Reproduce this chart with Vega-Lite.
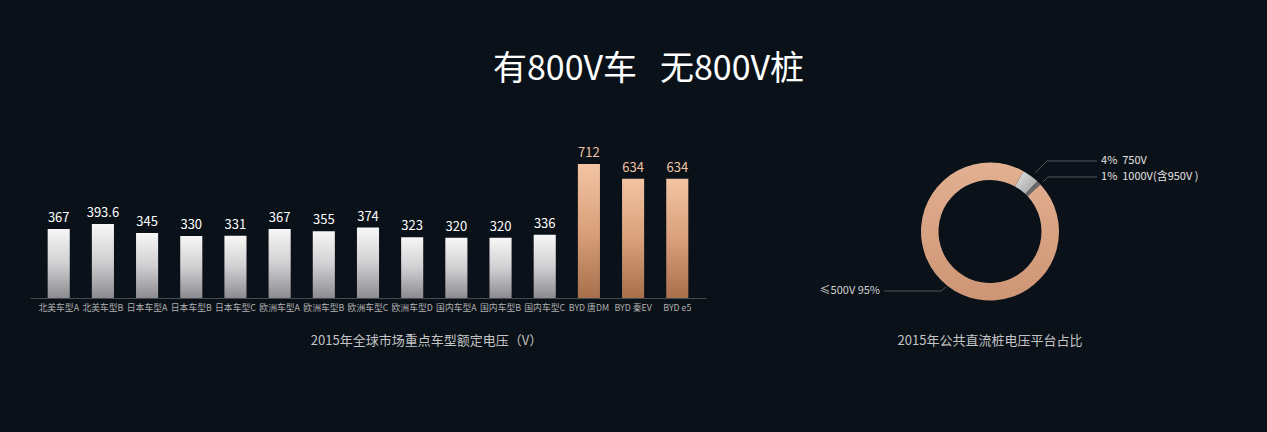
{
  "$schema": "https://vega.github.io/schema/vega-lite/v6.json",
  "usermeta": {"embedOptions": {"actions": false}},
  "background": "#0a1118",
  "padding": {"left": 30, "top": 53, "right": 0, "bottom": 95},
  "title": {
    "text": "有800V车\u00a0\u00a0\u00a0无800V桩",
    "anchor": "middle",
    "frame": "bounds",
    "font": "Noto Sans CJK SC",
    "fontSize": 34,
    "fontWeight": "normal",
    "color": "#ffffff",
    "offset": 60
  },
  "config": {
    "view": {"stroke": null},
    "font": "Noto Sans CJK SC"
  },
  "spacing": 7,
  "hconcat": [
    {
      "width": 676,
      "height": 134,
      "data": {
        "values": [
          {"model": "北美车型A", "voltage": 367, "brand": "other"},
          {"model": "北美车型B", "voltage": 393.6, "brand": "other"},
          {"model": "日本车型A", "voltage": 345, "brand": "other"},
          {"model": "日本车型B", "voltage": 330, "brand": "other"},
          {"model": "日本车型C", "voltage": 331, "brand": "other"},
          {"model": "欧洲车型A", "voltage": 367, "brand": "other"},
          {"model": "欧洲车型B", "voltage": 355, "brand": "other"},
          {"model": "欧洲车型C", "voltage": 374, "brand": "other"},
          {"model": "欧洲车型D", "voltage": 323, "brand": "other"},
          {"model": "国内车型A", "voltage": 320, "brand": "other"},
          {"model": "国内车型B", "voltage": 320, "brand": "other"},
          {"model": "国内车型C", "voltage": 336, "brand": "other"},
          {"model": "BYD 唐DM", "voltage": 712, "brand": "BYD"},
          {"model": "BYD 秦EV", "voltage": 634, "brand": "BYD"},
          {"model": "BYD e5", "voltage": 634, "brand": "BYD"}
        ]
      },
      "encoding": {
        "x": {
          "field": "model",
          "type": "nominal",
          "sort": null,
          "scale": {"paddingInner": 0.5, "paddingOuter": 0.4},
          "axis": {
            "title": "2015年全球市场重点车型额定电压（V）",
            "titleFontSize": 13,
            "titleFontWeight": "normal",
            "titleColor": "#c4c4c4",
            "titleX": 396,
            "titleY": 42,
            "titleBaseline": "middle",
            "titleAlign": "center",
            "labelAngle": 0,
            "labelFontSize": 8.8,
            "labelColor": "#b0b0b0",
            "labelPadding": 5,
            "labelOverlap": false,
            "ticks": false,
            "domainColor": "#474c53",
            "domainWidth": 1.2
          }
        },
        "y": {
          "field": "voltage",
          "type": "quantitative",
          "scale": {"domain": [0, 712], "nice": false},
          "axis": null
        }
      },
      "layer": [
        {
          "transform": [{"filter": "datum.brand === 'other'"}],
          "mark": {
            "type": "bar",
            "color": {
              "gradient": "linear", "x1": 0, "y1": 0, "x2": 0, "y2": 1,
              "stops": [
                {"offset": 0, "color": "#f7f7f7"},
                {"offset": 0.5, "color": "#d0d0d2"},
                {"offset": 1, "color": "#8c8c90"}
              ]
            }
          }
        },
        {
          "transform": [{"filter": "datum.brand === 'BYD'"}],
          "mark": {
            "type": "bar",
            "color": {
              "gradient": "linear", "x1": 0, "y1": 0, "x2": 0, "y2": 1,
              "stops": [
                {"offset": 0, "color": "#f3c4a3"},
                {"offset": 0.5, "color": "#d9a07b"},
                {"offset": 1, "color": "#a86f4d"}
              ]
            }
          }
        },
        {
          "mark": {"type": "text", "baseline": "bottom", "dy": -4, "fontSize": 13},
          "encoding": {
            "text": {"field": "voltage", "type": "quantitative", "format": "~f"},
            "color": {
              "condition": {"test": "datum.brand === 'BYD'", "value": "#f0c4a4"},
              "value": "#ffffff"
            }
          }
        }
      ]
    },
    {
      "width": 554,
      "height": 135,
      "title": {
        "text": "2015年公共直流桩电压平台占比",
        "orient": "bottom",
        "baseline": "top",
        "offset": 34,
        "fontSize": 13,
        "fontWeight": "normal",
        "color": "#c4c4c4",
        "anchor": "middle"
      },
      "layer": [
        {
          "data": {
            "values": [
              {"segment": "750V", "pct": 4, "idx": 1},
              {"segment": "1000V(含950V)", "pct": 1, "idx": 2},
              {"segment": "≤500V", "pct": 95, "idx": 3}
            ]
          },
          "transform": [
            {"stack": "pct", "groupby": [], "sort": [{"field": "idx", "order": "ascending"}], "as": ["t0", "t1"]}
          ],
          "encoding": {
            "theta": {
              "field": "t0",
              "type": "quantitative",
              "scale": {"domain": [0, 100], "range": [0.506, 6.789]}
            },
            "theta2": {"field": "t1"}
          },
          "layer": [
            {
              "transform": [{"filter": "datum.idx === 1"}],
              "mark": {
                "type": "arc", "innerRadius": 51.5, "outerRadius": 69,
                "color": {
                  "gradient": "linear", "x1": 0, "y1": 0, "x2": 1, "y2": 1,
                  "stops": [
                    {"offset": 0, "color": "#e6e6e6"},
                    {"offset": 1, "color": "#9a9a9c"}
                  ]
                }
              }
            },
            {
              "transform": [{"filter": "datum.idx === 2"}],
              "mark": {"type": "arc", "innerRadius": 51.5, "outerRadius": 69, "color": "#6a6a6c"}
            },
            {
              "transform": [{"filter": "datum.idx === 3"}],
              "mark": {
                "type": "arc", "innerRadius": 51.5, "outerRadius": 69,
                "color": {
                  "gradient": "linear", "x1": 0, "y1": 0, "x2": 0, "y2": 1,
                  "stops": [
                    {"offset": 0, "color": "#e3b092"},
                    {"offset": 1, "color": "#cd9574"}
                  ]
                }
              }
            }
          ]
        },
        {
          "data": {
            "values": [
              {"leader": "750V", "pt": 1, "x": 0.652, "y": 0.848},
              {"leader": "750V", "pt": 2, "x": 0.826, "y": 1.022},
              {"leader": "750V", "pt": 3, "x": 1.551, "y": 1.022},
              {"leader": "1000V", "pt": 1, "x": 0.768, "y": 0.717},
              {"leader": "1000V", "pt": 2, "x": 0.841, "y": 0.79},
              {"leader": "1000V", "pt": 3, "x": 1.551, "y": 0.79},
              {"leader": "500V", "pt": 1, "x": -0.638, "y": -0.804},
              {"leader": "500V", "pt": 2, "x": -0.71, "y": -0.862},
              {"leader": "500V", "pt": 3, "x": -1.536, "y": -0.862}
            ]
          },
          "mark": {"type": "line", "color": "#50555c", "strokeWidth": 1},
          "encoding": {
            "x": {"field": "x", "type": "quantitative", "scale": {"domain": [-4.0145, 4.0145], "nice": false, "zero": false}, "axis": null},
            "y": {"field": "y", "type": "quantitative", "scale": {"domain": [-0.978, 0.978], "nice": false, "zero": false}, "axis": null},
            "detail": {"field": "leader"},
            "order": {"field": "pt"}
          }
        },
        {
          "data": {
            "values": [
              {"label": "4%\u00a0\u00a0750V", "side": "right", "x": 1.609, "y": 1.022},
              {"label": "1%\u00a0\u00a01000V(含950V\u00a0)", "side": "right", "x": 1.609, "y": 0.79},
              {"label": "≤500V 95%", "side": "left", "x": -1.594, "y": -0.862}
            ]
          },
          "encoding": {
            "x": {"field": "x", "type": "quantitative"},
            "y": {"field": "y", "type": "quantitative"},
            "text": {"field": "label"}
          },
          "layer": [
            {
              "transform": [{"filter": "datum.side === 'right'"}],
              "mark": {"type": "text", "align": "left", "baseline": "middle", "fontSize": 11, "color": "#e2e2e2"}
            },
            {
              "transform": [{"filter": "datum.side === 'left'"}],
              "mark": {"type": "text", "align": "right", "baseline": "middle", "fontSize": 11, "color": "#d0d0d0"}
            }
          ]
        }
      ]
    }
  ]
}
